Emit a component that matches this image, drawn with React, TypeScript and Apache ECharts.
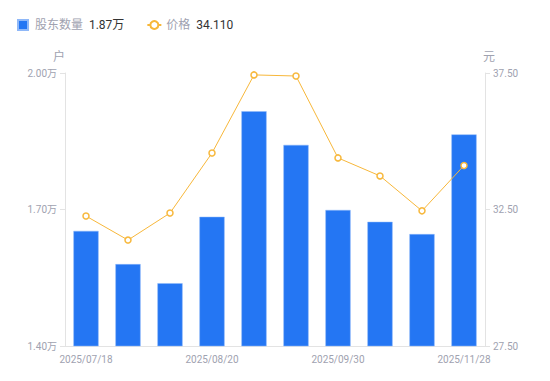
import React, { useEffect, useRef } from "react";
import * as echarts from "echarts";

const categories = [
  "2025/07/18", "2025/07/31", "2025/08/08", "2025/08/20", "2025/08/29",
  "2025/09/10", "2025/09/30", "2025/10/20", "2025/10/31", "2025/11/28",
];
const holders = [1.653, 1.58, 1.538, 1.684, 1.916, 1.842, 1.699, 1.673, 1.646, 1.865];
const prices = [32.26, 31.38, 32.37, 34.57, 37.43, 37.39, 34.39, 33.73, 32.45, 34.11];
const legendValues: Record<string, string> = { "股东数量": "1.87万", "价格": "34.110" };

export default function App() {
  const ref = useRef<HTMLDivElement>(null);
  useEffect(() => {
    const chart = echarts.init(ref.current!, undefined, { renderer: "svg" });
    const gray = "#a0a2b0";
    chart.setOption({
      animation: false,
      textStyle: { fontFamily: "Roboto, 'Noto Sans CJK SC', sans-serif" },
      legend: {
        left: 12,
        top: 14,
        itemWidth: 14,
        itemHeight: 10,
        itemGap: 22,
        symbolKeepAspect: true,
        data: [
          { name: "股东数量", icon: "path://M0,0h10v10h-10z" },
          { name: "价格" },
        ],
        formatter: (name: string) => `{n|${name}}  {v|${legendValues[name]}}`,
        textStyle: {
          rich: {
            n: { color: gray, fontSize: 12 },
            v: { color: "#333", fontSize: 12 },
          },
        },
      },
      grid: { left: 65, right: 65, top: 73, bottom: 35 },
      xAxis: {
        type: "category",
        data: categories,
        axisLine: { lineStyle: { color: "#e3e3e3" } },
        axisTick: { show: false },
        axisLabel: {
          color: gray,
          fontSize: 10,
          interval: (i: number) => i % 3 === 0,
          showMinLabel: true,
          showMaxLabel: true,
        },
      },
      yAxis: [
        {
          type: "value",
          name: "户",
          nameTextStyle: { color: gray, fontSize: 12, padding: [0, 12, 0, 0] },
          nameGap: 10,
          min: 1.4,
          max: 2.0,
          interval: 0.3,
          splitLine: { show: false },
          axisLine: { show: true, lineStyle: { color: "#e3e3e3" } },
          axisTick: { show: true, length: 5, lineStyle: { color: "#e3e3e3" } },
          axisLabel: { color: gray, fontSize: 10, formatter: (v: number) => v.toFixed(2) + "万" },
        },
        {
          type: "value",
          name: "元",
          nameTextStyle: { color: gray, fontSize: 12, padding: [0, 0, 0, 8] },
          nameGap: 10,
          min: 27.5,
          max: 37.5,
          interval: 5,
          splitLine: { show: false },
          axisLine: { show: true, lineStyle: { color: "#e3e3e3" } },
          axisTick: { show: true, length: 5, lineStyle: { color: "#e3e3e3" } },
          axisLabel: { color: gray, fontSize: 10, formatter: (v: number) => v.toFixed(2) },
        },
      ],
      series: [
        {
          name: "股东数量",
          type: "bar",
          data: holders,
          barWidth: "60%",
          itemStyle: { color: "#2476f3", borderColor: "#8fb8f8", borderWidth: 0.5 },
        },
        {
          name: "价格",
          type: "line",
          yAxisIndex: 1,
          data: prices,
          symbol: "circle",
          symbolSize: 6,
          lineStyle: { color: "#f7b73a", width: 1 },
          itemStyle: { color: "#fff", borderColor: "#f7b73a", borderWidth: 1.5 },
        },
      ],
    });
    return () => chart.dispose();
  }, []);
  return <div ref={ref} style={{ width: 550, height: 381, marginLeft: -8, marginTop: -8 }} />;
}
